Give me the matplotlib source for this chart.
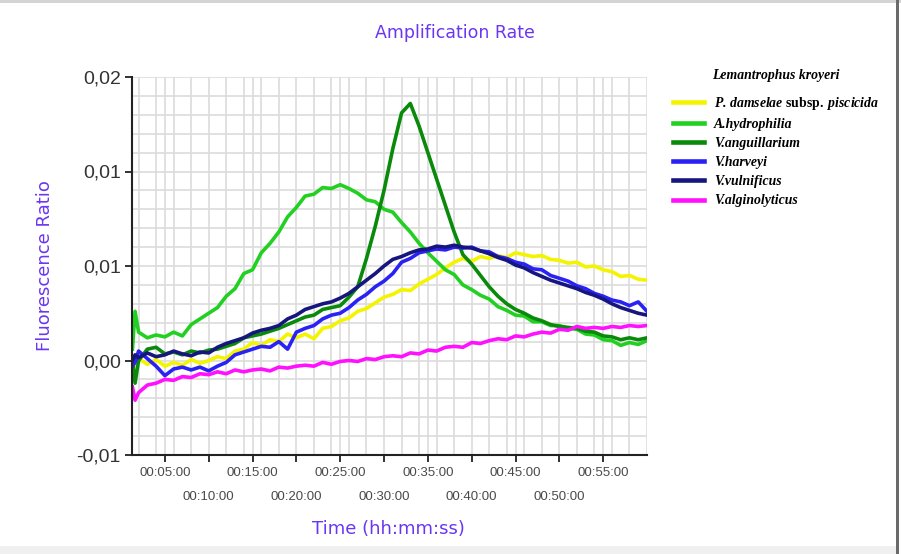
import numpy as np
import matplotlib
matplotlib.use("Agg")
import matplotlib.pyplot as plt
from matplotlib.patches import Rectangle

plt.rcParams['mathtext.fontset'] = 'custom'
plt.rcParams['mathtext.bf'] = 'Liberation Serif:bold'
plt.rcParams['mathtext.rm'] = 'Liberation Serif'
plt.rcParams['mathtext.it'] = 'Liberation Serif:italic'

# time in minutes
minutes = [1.3, 1.6] + list(range(2, 61))

# fluorescence ratio values (x 0.001)
p_damselae = [0.2, -0.3,
              0.1, -0.2, 0.05, -0.3, -0.1, -0.25, 0.05, -0.15, 0.0, 0.2,
              0.1, 0.5, 0.6, 0.95, 0.8, 1.1, 1.0, 1.4, 1.2, 1.4,
              1.15, 1.7, 1.8, 2.1, 2.25, 2.6, 2.75, 3.05, 3.35, 3.5,
              3.75, 3.7, 4.05, 4.3, 4.55, 4.9, 5.2, 5.4, 5.25, 5.5,
              5.4, 5.55, 5.45, 5.7, 5.6, 5.5, 5.55, 5.35, 5.3, 5.15,
              5.2, 4.95, 5.0, 4.8, 4.7, 4.45, 4.5, 4.3, 4.25]
a_hydrophilia = [0.6, 2.6,
                 1.5, 1.2, 1.35, 1.25, 1.5, 1.3, 1.9, 2.2, 2.5, 2.8,
                 3.4, 3.8, 4.6, 4.8, 5.7, 6.2, 6.8, 7.6, 8.1, 8.7,
                 8.8, 9.15, 9.1, 9.3, 9.1, 8.85, 8.5, 8.4, 8.0, 7.85,
                 7.3, 6.8, 6.2, 5.7, 5.25, 4.8, 4.55, 4.0, 3.75, 3.45,
                 3.25, 2.85, 2.65, 2.4, 2.35, 2.05, 2.05, 1.85, 1.85, 1.7,
                 1.65, 1.4, 1.35, 1.1, 1.05, 0.8, 0.95, 0.85, 1.05]
v_anguillarium = [0.0, -1.2,
                  0.0, 0.6, 0.7, 0.35, 0.45, 0.3, 0.5, 0.4, 0.55, 0.6,
                  0.75, 0.9, 1.2, 1.3, 1.4, 1.55, 1.7, 1.9, 2.1, 2.3,
                  2.4, 2.7, 2.8, 2.9, 3.35, 3.9, 5.4, 7.1, 9.0, 11.2,
                  13.1, 13.6, 12.4, 11.0, 9.6, 8.2, 6.8, 5.6, 5.1, 4.5,
                  3.9, 3.4, 3.0, 2.7, 2.5, 2.25, 2.1, 1.9, 1.8, 1.75,
                  1.7, 1.55, 1.5, 1.3, 1.25, 1.1, 1.2, 1.1, 1.2]
v_harveyi = [-0.3, -0.1,
             0.5, 0.1, -0.3, -0.8, -0.45, -0.35, -0.5, -0.35, -0.55, -0.3,
             -0.1, 0.3, 0.45, 0.6, 0.75, 0.7, 1.0, 0.6, 1.5, 1.7,
             1.85, 2.2, 2.4, 2.5, 2.8, 3.2, 3.5, 3.9, 4.2, 4.6,
             5.2, 5.4, 5.7, 5.8, 5.9, 5.85, 6.0, 5.95, 6.0, 5.8,
             5.75, 5.5, 5.4, 5.2, 5.1, 4.85, 4.8, 4.5, 4.35, 4.2,
             3.95, 3.8, 3.55, 3.4, 3.2, 3.1, 2.9, 3.1, 2.6]
v_vulnificus = [0.0, 0.3,
                0.15, 0.4, 0.2, 0.3, 0.5, 0.35, 0.25, 0.45, 0.4, 0.7,
                0.9, 1.05, 1.2, 1.45, 1.6, 1.7, 1.85, 2.2, 2.4, 2.7,
                2.85, 3.0, 3.1, 3.3, 3.55, 3.9, 4.25, 4.6, 5.0, 5.35,
                5.5, 5.7, 5.85, 5.9, 6.05, 6.0, 6.1, 6.0, 5.95, 5.8,
                5.65, 5.45, 5.3, 5.05, 4.9, 4.65, 4.45, 4.25, 4.1, 3.95,
                3.8, 3.6, 3.45, 3.25, 3.0, 2.8, 2.65, 2.5, 2.4]
v_alginolyticus = [-1.4, -2.1,
                   -1.7, -1.3, -1.2, -1.0, -1.05, -0.85, -0.9, -0.7, -0.75, -0.6,
                   -0.7, -0.5, -0.6, -0.5, -0.45, -0.55, -0.35, -0.4, -0.3, -0.25,
                   -0.3, -0.1, -0.2, -0.05, 0.0, -0.05, 0.1, 0.05, 0.2, 0.25,
                   0.2, 0.4, 0.35, 0.55, 0.5, 0.7, 0.75, 0.7, 0.95, 0.9,
                   1.05, 1.15, 1.1, 1.3, 1.25, 1.4, 1.5, 1.45, 1.65, 1.6,
                   1.8, 1.7, 1.75, 1.7, 1.8, 1.75, 1.85, 1.8, 1.85]

series_labels = [r"P. damselae $\mathbf{subsp.}$ piscicida", "A.hydrophilia", "V.anguillarium",
                 "V.harveyi", "V.vulnificus", "V.alginolyticus"]
series_values = [p_damselae, a_hydrophilia, v_anguillarium, v_harveyi, v_vulnificus, v_alginolyticus]
series_colors = ["#f4f400", "#22d022", "#0a8a0a", "#2a22f5", "#16167e", "#ff10ff"]

xtick_odd = [5, 15, 25, 35, 45, 55]
xtick_odd_labels = ["00:05:00", "00:15:00", "00:25:00", "00:35:00", "00:45:00", "00:55:00"]
xtick_even = [10, 20, 30, 40, 50]
xtick_even_labels = ["00:10:00", "00:20:00", "00:30:00", "00:40:00", "00:50:00"]
ytick_vals = [-0.005, 0.0, 0.005, 0.010, 0.015]
ytick_labels = ["-0,01", "0,00", "0,01", "0,01", "0,02"]

fig = plt.figure(figsize=(9.01, 5.54), dpi=100)

# screenshot frame: light top line, dark right edge, grey bottom band
fig.patches.append(Rectangle((0, 1-3/554), 1, 3/554, transform=fig.transFigure,
                             facecolor="#d4d4d4", edgecolor="none", zorder=0))
fig.patches.append(Rectangle((896/901, 0), 3/901, 1, transform=fig.transFigure,
                             facecolor="#6a6a6a", edgecolor="none", zorder=0))
fig.patches.append(Rectangle((0, 0), 896/901, 8/554, transform=fig.transFigure,
                             facecolor="#f0f0f0", edgecolor="none", zorder=0))

ax = fig.add_axes([132/901, 1-455/554, (647-132)/901, (455-77)/554])
ax.patch.set_alpha(0)

# grid
grid_kw = dict(color="#dcdcdc", lw=1.2, zorder=0)
for gx in list(range(2, 61, 2)) + xtick_odd:
    ax.axvline(gx, **grid_kw)
for gy in np.arange(-0.005, 0.0151, 0.001):
    ax.axhline(gy, **grid_kw)

t = np.array(minutes)
for vals, col, lab in zip(series_values, series_colors, series_labels):
    ax.plot(t, np.array(vals) / 1000.0, color=col, lw=2.6, label=lab, zorder=3,
            solid_joinstyle='round')

ax.set_xlim(1.25, 60.0)
ax.set_ylim(-0.005, 0.015)

ax.set_xticks(xtick_odd)
ax.set_xticklabels(xtick_odd_labels)
ax.set_xticks(xtick_even, minor=True)
ax.set_xticklabels(xtick_even_labels, minor=True)
ax.tick_params(axis='x', which='major', length=5, width=1.3, pad=4, labelsize=9.5,
               labelcolor="#4a4a4a", color="#222222")
ax.tick_params(axis='x', which='minor', length=5, width=1.3, pad=21, labelsize=9.5,
               labelcolor="#4a4a4a", color="#222222")
for lab in ax.get_xticklabels() + ax.get_xticklabels(minor=True):
    lab.set_family("Liberation Sans")

ax.set_yticks(ytick_vals)
ax.set_yticklabels(ytick_labels)
ax.tick_params(axis='y', length=5, width=1.3, pad=3, labelsize=14,
               labelcolor="#333333", color="#222222")
for lab in ax.get_yticklabels():
    lab.set_family("Liberation Sans")

for s in ["top", "right"]:
    ax.spines[s].set_visible(False)
for s in ["left", "bottom"]:
    ax.spines[s].set_color("#222222")
    ax.spines[s].set_linewidth(1.5)
    ax.spines[s].set_zorder(4)

purple = "#6a36f2"
fig.text(455/901, 1-33/554, "Amplification Rate", ha='center', va='center',
         fontsize=12.5, color=purple, family="DejaVu Sans")
fig.text(388/901, 1-529/554, "Time (hh:mm:ss)", ha='center', va='center',
         fontsize=13, color=purple, family="DejaVu Sans")
fig.text(45/901, 1-266/554, "Fluorescence Ratio", ha='center', va='center',
         rotation=90, fontsize=13, color=purple, family="DejaVu Sans")

leg_font = dict(family="Liberation Serif", weight="bold", style="italic", size=9.9)
leg = fig.legend(loc='upper left', bbox_to_anchor=(673/901, 1-69/554),
                 frameon=False, title="Lemantrophus kroyeri",
                 prop=leg_font,
                 handlelength=2.25, handletextpad=0.72, labelspacing=0.45,
                 borderpad=0, borderaxespad=0)
leg.get_title().set_fontproperties(leg_font)
leg._legend_box.sep = 9
for h in leg.get_lines():
    h.set_linewidth(3.3)

fig.savefig("out.png", dpi=100)
